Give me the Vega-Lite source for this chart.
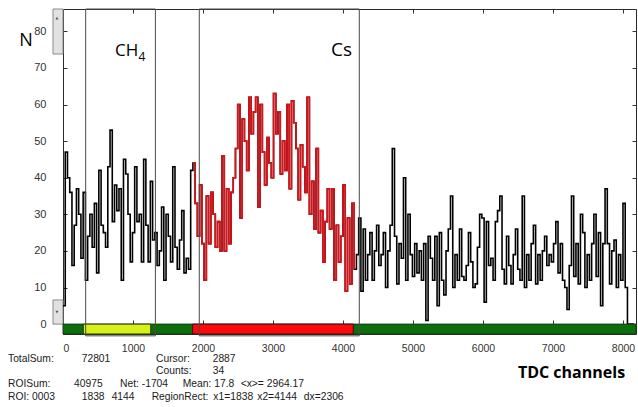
{
  "$schema": "https://vega.github.io/schema/vega-lite/v6.json",
  "width": 573,
  "height": 325,
  "autosize": {"type": "none"},
  "padding": {"left": 63, "top": 9, "right": 2, "bottom": 73},
  "background": "white",
  "config": {
    "view": {"stroke": "#2a2a2a", "strokeWidth": 1},
    "text": {"font": "Liberation Sans", "fontSize": 10.3, "align": "left", "baseline": "middle", "color": "#1a1a1a"}
  },
  "resolve": {"axis": {"x": "independent", "y": "independent"}},
  "datasets": {
    "h": [
      {"c":0,"n":5},{"c":32,"n":47},{"c":64,"n":40},{"c":96,"n":36},{"c":128,"n":16},{"c":160,"n":27},{"c":192,"n":37},{"c":224,"n":30},{"c":256,"n":18},{"c":288,"n":36},
      {"c":320,"n":12},{"c":352,"n":24},{"c":384,"n":30},{"c":416,"n":21},{"c":448,"n":33},{"c":480,"n":14},{"c":512,"n":42},{"c":544,"n":27},{"c":576,"n":25},{"c":608,"n":21},
      {"c":640,"n":43},{"c":672,"n":53},{"c":704,"n":28},{"c":736,"n":38},{"c":768,"n":31},{"c":800,"n":37},{"c":832,"n":12},{"c":864,"n":45},{"c":896,"n":41},{"c":928,"n":30},
      {"c":960,"n":17},{"c":992,"n":25},{"c":1024,"n":43},{"c":1056,"n":28},{"c":1088,"n":30},{"c":1120,"n":17},{"c":1152,"n":45},{"c":1184,"n":27},{"c":1216,"n":17},{"c":1248,"n":39},
      {"c":1280,"n":23},{"c":1312,"n":25},{"c":1344,"n":16},{"c":1376,"n":20},{"c":1408,"n":32},{"c":1440,"n":12},{"c":1472,"n":30},{"c":1504,"n":24},{"c":1536,"n":17},{"c":1568,"n":43},
      {"c":1600,"n":21},{"c":1632,"n":15},{"c":1664,"n":23},{"c":1696,"n":31},{"c":1728,"n":14},{"c":1760,"n":18},{"c":1792,"n":15},{"c":1824,"n":42},{"c":1856,"n":44},{"c":1888,"n":33},
      {"c":1920,"n":24},{"c":1952,"n":38},{"c":1984,"n":22},{"c":2016,"n":12},{"c":2048,"n":35},{"c":2080,"n":22},{"c":2112,"n":36},{"c":2144,"n":30},{"c":2176,"n":21},{"c":2208,"n":28},
      {"c":2240,"n":20},{"c":2272,"n":46},{"c":2304,"n":20},{"c":2336,"n":37},{"c":2368,"n":22},{"c":2400,"n":36},{"c":2432,"n":40},{"c":2464,"n":48},{"c":2496,"n":60},{"c":2528,"n":29},
      {"c":2560,"n":56},{"c":2592,"n":50},{"c":2624,"n":42},{"c":2656,"n":62},{"c":2688,"n":52},{"c":2720,"n":58},{"c":2752,"n":62},{"c":2784,"n":32},{"c":2816,"n":60},{"c":2848,"n":47},
      {"c":2880,"n":38},{"c":2912,"n":51},{"c":2944,"n":44},{"c":2976,"n":40},{"c":3008,"n":63},{"c":3040,"n":52},{"c":3072,"n":58},{"c":3104,"n":41},{"c":3136,"n":50},{"c":3168,"n":42},
      {"c":3200,"n":60},{"c":3232,"n":37},{"c":3264,"n":61},{"c":3296,"n":55},{"c":3328,"n":48},{"c":3360,"n":34},{"c":3392,"n":49},{"c":3424,"n":43},{"c":3456,"n":36},{"c":3488,"n":62},
      {"c":3520,"n":30},{"c":3552,"n":39},{"c":3584,"n":26},{"c":3616,"n":48},{"c":3648,"n":25},{"c":3680,"n":31},{"c":3712,"n":17},{"c":3744,"n":28},{"c":3776,"n":37},{"c":3808,"n":26},
      {"c":3840,"n":37},{"c":3872,"n":12},{"c":3904,"n":27},{"c":3936,"n":17},{"c":3968,"n":24},{"c":4000,"n":38},{"c":4032,"n":9},{"c":4064,"n":29},{"c":4096,"n":11},{"c":4128,"n":33},
      {"c":4160,"n":15},{"c":4192,"n":19},{"c":4224,"n":29},{"c":4256,"n":9},{"c":4288,"n":26},{"c":4320,"n":12},{"c":4352,"n":19},{"c":4384,"n":25},{"c":4416,"n":12},{"c":4448,"n":20},
      {"c":4480,"n":27},{"c":4512,"n":16},{"c":4544,"n":19},{"c":4576,"n":25},{"c":4608,"n":10},{"c":4640,"n":20},{"c":4672,"n":27},{"c":4704,"n":48},{"c":4736,"n":24},{"c":4768,"n":11},
      {"c":4800,"n":22},{"c":4832,"n":18},{"c":4864,"n":40},{"c":4896,"n":12},{"c":4928,"n":30},{"c":4960,"n":19},{"c":4992,"n":13},{"c":5024,"n":22},{"c":5056,"n":14},{"c":5088,"n":20},
      {"c":5120,"n":12},{"c":5152,"n":22},{"c":5184,"n":1},{"c":5216,"n":24},{"c":5248,"n":18},{"c":5280,"n":12},{"c":5312,"n":24},{"c":5344,"n":5},{"c":5376,"n":25},{"c":5408,"n":12},
      {"c":5440,"n":8},{"c":5472,"n":20},{"c":5504,"n":26},{"c":5536,"n":35},{"c":5568,"n":10},{"c":5600,"n":19},{"c":5632,"n":12},{"c":5664,"n":26},{"c":5696,"n":13},{"c":5728,"n":12},
      {"c":5760,"n":16},{"c":5792,"n":25},{"c":5824,"n":17},{"c":5856,"n":10},{"c":5888,"n":11},{"c":5920,"n":21},{"c":5952,"n":30},{"c":5984,"n":29},{"c":6016,"n":6},{"c":6048,"n":28},
      {"c":6080,"n":16},{"c":6112,"n":18},{"c":6144,"n":12},{"c":6176,"n":28},{"c":6208,"n":31},{"c":6240,"n":35},{"c":6272,"n":15},{"c":6304,"n":11},{"c":6336,"n":24},{"c":6368,"n":16},
      {"c":6400,"n":11},{"c":6432,"n":19},{"c":6464,"n":26},{"c":6496,"n":15},{"c":6528,"n":12},{"c":6560,"n":35},{"c":6592,"n":10},{"c":6624,"n":19},{"c":6656,"n":12},{"c":6688,"n":22},
      {"c":6720,"n":27},{"c":6752,"n":11},{"c":6784,"n":19},{"c":6816,"n":12},{"c":6848,"n":20},{"c":6880,"n":24},{"c":6912,"n":16},{"c":6944,"n":19},{"c":6976,"n":17},{"c":7008,"n":22},
      {"c":7040,"n":28},{"c":7072,"n":14},{"c":7104,"n":22},{"c":7136,"n":12},{"c":7168,"n":10},{"c":7200,"n":4},{"c":7232,"n":16},{"c":7264,"n":35},{"c":7296,"n":13},{"c":7328,"n":22},
      {"c":7360,"n":11},{"c":7392,"n":30},{"c":7424,"n":25},{"c":7456,"n":10},{"c":7488,"n":19},{"c":7520,"n":12},{"c":7552,"n":22},{"c":7584,"n":30},{"c":7616,"n":13},{"c":7648,"n":25},
      {"c":7680,"n":5},{"c":7712,"n":22},{"c":7744,"n":37},{"c":7776,"n":22},{"c":7808,"n":11},{"c":7840,"n":20},{"c":7872,"n":23},{"c":7904,"n":10},{"c":7936,"n":19},{"c":7968,"n":12},
      {"c":8000,"n":33},{"c":8032,"n":10},{"c":8064,"n":0},{"c":8096,"n":0},{"c":8128,"n":0},{"c":8160,"n":0}
    ]
  },
  "layer": [
    {
      "data": {"values": [{}]},
      "mark": {"type": "rect", "fill": "#e2e2e2", "stroke": "#8a8a8a", "strokeWidth": 1},
      "encoding": {
        "x": {"datum": -143, "type": "quantitative", "axis": null},
        "x2": {"datum": 0},
        "y": {"datum": 73.8, "type": "quantitative", "axis": null},
        "y2": {"datum": 86.1}
      }
    },
    {
      "data": {"values": [{}]},
      "mark": {"type": "rect", "fill": "#e2e2e2", "stroke": "#8a8a8a", "strokeWidth": 1},
      "encoding": {
        "x": {"datum": -143, "type": "quantitative", "axis": null},
        "x2": {"datum": 0},
        "y": {"datum": 0, "type": "quantitative", "axis": null},
        "y2": {"datum": 6.6}
      }
    },
    {
      "data": {"values": [{}]},
      "mark": {"type": "point", "shape": "triangle-up", "size": 10, "filled": true, "color": "#222"},
      "encoding": {
        "x": {"datum": -86, "type": "quantitative", "axis": null},
        "y": {"datum": 83.6, "type": "quantitative", "axis": null}
      }
    },
    {
      "data": {"values": [{}]},
      "mark": {"type": "point", "shape": "triangle-down", "size": 10, "filled": true, "color": "#222"},
      "encoding": {
        "x": {"datum": -86, "type": "quantitative", "axis": null},
        "y": {"datum": 3.3, "type": "quantitative", "axis": null}
      }
    },
    {
      "data": {"name": "h"},
      "mark": {"type": "line", "interpolate": "step-after", "color": "#000000", "strokeWidth": 1.6},
      "encoding": {
        "x": {
          "field": "c", "type": "quantitative",
          "scale": {"domain": [0, 8186], "nice": false, "zero": false},
          "axis": {
            "orient": "bottom", "values": [0,1000,2000,3000,4000,5000,6000,7000,8000], "format": "d",
            "domain": false, "grid": false, "tickSize": -14, "tickColor": "#333", "tickWidth": 1,
            "labelFont": "Liberation Sans", "labelFontSize": 10.5, "labelColor": "#333",
            "labelPadding": 23, "labelFlush": true,
            "title": "TDC channels", "titleFont": "Open Sans", "titleFontSize": 16, "titleFontWeight": "bold",
            "titleColor": "#000", "titleX": 508, "titleY": 43, "titleAlign": "center", "titleBaseline": "alphabetic", "titleAnchor": null
          }
        },
        "y": {
          "field": "n", "type": "quantitative",
          "scale": {"domain": [-2.7, 86.1], "nice": false, "zero": false},
          "axis": {
            "orient": "left", "values": [0,10,20,30,40,50,60,70,80],
            "domain": false, "grid": false, "tickSize": -4, "tickColor": "#333",
            "labelFont": "Liberation Sans", "labelFontSize": 11, "labelColor": "#333", "labelPadding": 21,
            "title": "N", "titleFont": "Open Sans", "titleFontSize": 18, "titleFontWeight": "normal", "titleColor": "#000",
            "titleAngle": 0, "titleX": -37.5, "titleY": 36, "titleAlign": "center", "titleBaseline": "alphabetic", "titleAnchor": null
          }
        }
      }
    },
    {
      "data": {"name": "h"},
      "transform": [{"filter": "datum.c >= 1856 && datum.c <= 4160"}],
      "mark": {"type": "line", "interpolate": "step-after", "color": "#e30f16", "strokeWidth": 1.6},
      "encoding": {
        "x": {
          "field": "c", "type": "quantitative",
          "axis": {"orient": "top", "values": [0,1000,2000,3000,4000,5000,6000,7000,8000], "domain": false, "grid": false, "labels": false, "tickSize": -4, "tickColor": "#333", "title": null}
        },
        "y": {
          "field": "n", "type": "quantitative",
          "axis": {"orient": "right", "values": [0,10,20,30,40,50,60,70,80], "domain": false, "grid": false, "labels": false, "tickSize": -4, "tickColor": "#333", "title": null}
        }
      }
    },
    {
      "data": {"values": [{}]},
      "mark": {"type": "rect", "fill": "#0b700b", "stroke": "#173a17", "strokeWidth": 1},
      "encoding": {
        "x": {"datum": 0, "type": "quantitative", "axis": null},
        "x2": {"datum": 8186},
        "y": {"datum": -2.7, "type": "quantitative", "axis": null},
        "y2": {"datum": 0}
      }
    },
    {
      "data": {"values": [{}]},
      "mark": {"type": "rect", "fill": "#d6f01a", "stroke": "#2a3a10", "strokeWidth": 1},
      "encoding": {
        "x": {"datum": 290, "type": "quantitative", "axis": null},
        "x2": {"datum": 1253},
        "y": {"datum": -2.7, "type": "quantitative", "axis": null},
        "y2": {"datum": 0}
      }
    },
    {
      "data": {"values": [{}]},
      "mark": {"type": "rect", "fill": "#ff0a0a", "stroke": "#3a1010", "strokeWidth": 1},
      "encoding": {
        "x": {"datum": 1852, "type": "quantitative", "axis": null},
        "x2": {"datum": 4147},
        "y": {"datum": -2.7, "type": "quantitative", "axis": null},
        "y2": {"datum": 0}
      }
    },
    {
      "data": {"values": [{}]},
      "mark": {"type": "rect", "fillOpacity": 0, "stroke": "#4a4a4a", "strokeWidth": 1},
      "encoding": {
        "x": {"datum": 324, "type": "quantitative", "axis": null},
        "x2": {"datum": 1320},
        "y": {"datum": -3.2, "type": "quantitative", "axis": null},
        "y2": {"datum": 86.1}
      }
    },
    {
      "data": {"values": [{}]},
      "mark": {"type": "rect", "fillOpacity": 0, "stroke": "#4a4a4a", "strokeWidth": 1},
      "encoding": {
        "x": {"datum": 1947, "type": "quantitative", "axis": null},
        "x2": {"datum": 4233},
        "y": {"datum": -3.2, "type": "quantitative", "axis": null},
        "y2": {"datum": 86.1}
      }
    },
    {
      "data": {"values": [{}]},
      "mark": {"type": "text", "text": "CH", "font": "Open Sans", "fontSize": 17, "baseline": "alphabetic", "color": "#000"},
      "encoding": {"x": {"datum": 743, "type": "quantitative", "axis": null}, "y": {"datum": 73.25, "type": "quantitative", "axis": null}}
    },
    {
      "data": {"values": [{}]},
      "mark": {"type": "text", "text": "4", "font": "Open Sans", "fontSize": 12, "baseline": "alphabetic", "color": "#000"},
      "encoding": {"x": {"datum": 1080, "type": "quantitative", "axis": null}, "y": {"datum": 72.0, "type": "quantitative", "axis": null}}
    },
    {
      "data": {"values": [{}]},
      "mark": {"type": "text", "text": "Cs", "font": "Open Sans", "fontSize": 19, "baseline": "alphabetic", "color": "#000"},
      "encoding": {"x": {"datum": 3829, "type": "quantitative", "axis": null}, "y": {"datum": 73.25, "type": "quantitative", "axis": null}}
    },
    {"data": {"values": [{}]}, "mark": {"type": "text", "text": "TotalSum:"}, "encoding": {"x": {"datum": -786, "type": "quantitative", "axis": null}, "y": {"datum": -9.4, "type": "quantitative", "axis": null}}},
    {"data": {"values": [{}]}, "mark": {"type": "text", "text": "72801"}, "encoding": {"x": {"datum": 267, "type": "quantitative", "axis": null}, "y": {"datum": -9.4, "type": "quantitative", "axis": null}}},
    {"data": {"values": [{}]}, "mark": {"type": "text", "text": "Cursor:"}, "encoding": {"x": {"datum": 1329, "type": "quantitative", "axis": null}, "y": {"datum": -9.4, "type": "quantitative", "axis": null}}},
    {"data": {"values": [{}]}, "mark": {"type": "text", "text": "2887"}, "encoding": {"x": {"datum": 2138, "type": "quantitative", "axis": null}, "y": {"datum": -9.4, "type": "quantitative", "axis": null}}},
    {"data": {"values": [{}]}, "mark": {"type": "text", "text": "Counts:"}, "encoding": {"x": {"datum": 1329, "type": "quantitative", "axis": null}, "y": {"datum": -12.8, "type": "quantitative", "axis": null}}},
    {"data": {"values": [{}]}, "mark": {"type": "text", "text": "34"}, "encoding": {"x": {"datum": 2138, "type": "quantitative", "axis": null}, "y": {"datum": -12.8, "type": "quantitative", "axis": null}}},
    {"data": {"values": [{}]}, "mark": {"type": "text", "text": "ROISum:"}, "encoding": {"x": {"datum": -786, "type": "quantitative", "axis": null}, "y": {"datum": -16.4, "type": "quantitative", "axis": null}}},
    {"data": {"values": [{}]}, "mark": {"type": "text", "text": "40975"}, "encoding": {"x": {"datum": 157, "type": "quantitative", "axis": null}, "y": {"datum": -16.4, "type": "quantitative", "axis": null}}},
    {"data": {"values": [{}]}, "mark": {"type": "text", "text": "Net: -1704"}, "encoding": {"x": {"datum": 814, "type": "quantitative", "axis": null}, "y": {"datum": -16.4, "type": "quantitative", "axis": null}}},
    {"data": {"values": [{}]}, "mark": {"type": "text", "text": "Mean: 17.8"}, "encoding": {"x": {"datum": 1710, "type": "quantitative", "axis": null}, "y": {"datum": -16.4, "type": "quantitative", "axis": null}}},
    {"data": {"values": [{}]}, "mark": {"type": "text", "text": "<x>= 2964.17"}, "encoding": {"x": {"datum": 2538, "type": "quantitative", "axis": null}, "y": {"datum": -16.4, "type": "quantitative", "axis": null}}},
    {"data": {"values": [{}]}, "mark": {"type": "text", "text": "ROI: 0003"}, "encoding": {"x": {"datum": -786, "type": "quantitative", "axis": null}, "y": {"datum": -19.8, "type": "quantitative", "axis": null}}},
    {"data": {"values": [{}]}, "mark": {"type": "text", "text": "1838"}, "encoding": {"x": {"datum": 267, "type": "quantitative", "axis": null}, "y": {"datum": -19.8, "type": "quantitative", "axis": null}}},
    {"data": {"values": [{}]}, "mark": {"type": "text", "text": "4144"}, "encoding": {"x": {"datum": 695, "type": "quantitative", "axis": null}, "y": {"datum": -19.8, "type": "quantitative", "axis": null}}},
    {"data": {"values": [{}]}, "mark": {"type": "text", "text": "RegionRect:"}, "encoding": {"x": {"datum": 1267, "type": "quantitative", "axis": null}, "y": {"datum": -19.8, "type": "quantitative", "axis": null}}},
    {"data": {"values": [{}]}, "mark": {"type": "text", "text": "x1=1838"}, "encoding": {"x": {"datum": 2148, "type": "quantitative", "axis": null}, "y": {"datum": -19.8, "type": "quantitative", "axis": null}}},
    {"data": {"values": [{}]}, "mark": {"type": "text", "text": "x2=4144"}, "encoding": {"x": {"datum": 2775, "type": "quantitative", "axis": null}, "y": {"datum": -19.8, "type": "quantitative", "axis": null}}},
    {"data": {"values": [{}]}, "mark": {"type": "text", "text": "dx=2306"}, "encoding": {"x": {"datum": 3440, "type": "quantitative", "axis": null}, "y": {"datum": -19.8, "type": "quantitative", "axis": null}}}
  ]
}
